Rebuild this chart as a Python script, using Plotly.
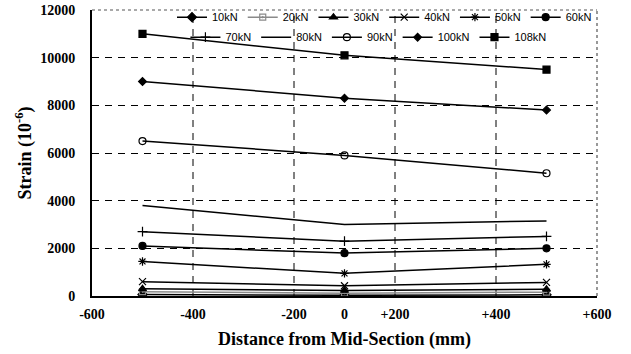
import plotly.graph_objects as go

# ---- data ----
positions_mm = [-500, 0, 500]
load_names = ["10kN", "20kN", "30kN", "40kN", "50kN", "60kN",
              "70kN", "80kN", "90kN", "100kN", "108kN"]
strain_10kN = [60, 30, 50]
strain_20kN = [180, 120, 160]
strain_30kN = [300, 230, 280]
strain_40kN = [600, 430, 570]
strain_50kN = [1450, 950, 1330]
strain_60kN = [2100, 1800, 2000]
strain_70kN = [2700, 2300, 2500]
strain_80kN = [3800, 3000, 3150]
strain_90kN = [6500, 5900, 5150]
strain_100kN = [9000, 8300, 7800]
strain_108kN = [11000, 10100, 9500]
x_tick_labels = ["-600", "-400", "-200", "0", "+200", "+400", "+600"]
y_tick_values = [0, 2000, 4000, 6000, 8000, 10000, 12000]
y_tick_labels = ["0", "2000", "4000", "6000", "8000", "10000", "12000"]

series = [strain_10kN, strain_20kN, strain_30kN, strain_40kN, strain_50kN,
          strain_60kN, strain_70kN, strain_80kN, strain_90kN, strain_100kN,
          strain_108kN]

# ---- styles ----
styles = [
    dict(symbol="diamond", color="black", size=7),
    dict(symbol="square-open-dot", color="#8a8a8a", size=6),
    dict(symbol="triangle-up", color="black", size=7),
    dict(symbol="x-thin-open", color="black", size=7),
    dict(symbol="asterisk-open", color="black", size=7),
    dict(symbol="circle", color="black", size=7),
    dict(symbol="cross-thin-open", color="black", size=7),
    None,
    dict(symbol="circle-open", color="black", size=7),
    dict(symbol="diamond", color="black", size=6),
    dict(symbol="square", color="black", size=7),
]

fig = go.Figure()
for i, (name, vals, st) in enumerate(zip(load_names, series, styles)):
    lg = "legend" if i < 6 else "legend2"
    if st is None:
        fig.add_trace(go.Scatter(x=positions_mm, y=vals, name=name, mode="lines",
                                 line=dict(color="black", width=1.5), legend=lg))
    else:
        fig.add_trace(go.Scatter(
            x=positions_mm, y=vals, name=name, mode="lines+markers",
            line=dict(color=st["color"], width=1.5),
            marker=dict(symbol=st["symbol"], size=st["size"], color=st["color"],
                        line=dict(color=st["color"], width=1.2)),
            legend=lg))

SERIF = "Liberation Serif"
legend_font = dict(family="Liberation Sans", size=11, color="black")
tick_font = dict(family=SERIF, size=14, color="black", weight=700)
title_font = dict(family=SERIF, size=18, color="black", weight=700)


def bold_serif(t):
    return ("<span style='font-family:Liberation Serif;font-weight:bold'>"
            + t + "</span>")


grid_line = dict(color="black", width=1, dash="7px,6px")
shapes = [
    dict(type="line", xref="x", yref="paper", x0=gx, x1=gx, y0=0, y1=1,
         line=grid_line, layer="below")
    for gx in (-375, -125, 125, 375)
]
shapes += [
    dict(type="line", xref="paper", yref="paper", x0=0, x1=1, y0=1, y1=1,
         line=dict(color="#555555", width=1.2, dash="dot")),
    dict(type="line", xref="paper", yref="paper", x0=1, x1=1, y0=0, y1=1,
         line=dict(color="#555555", width=1.2, dash="dot")),
]

fig.update_layout(
    width=631, height=354,
    margin=dict(l=92, r=34, t=10, b=58, autoexpand=False),
    font=dict(family=SERIF, color="black"),
    paper_bgcolor="white", plot_bgcolor="white",
    xaxis=dict(
        range=[-625, 625], automargin=False,
        tickmode="array",
        tickvals=[-625, -375, -125, 0, 125, 375, 625],
        ticktext=[bold_serif(t) for t in x_tick_labels],
        showgrid=False, zeroline=False,
        showline=True, linecolor="black", linewidth=2,
        ticks="", ticklabelstandoff=4, tickfont=tick_font,
        title=dict(text="Distance from Mid-Section (mm)", font=title_font, standoff=12),
    ),
    yaxis=dict(
        range=[0, 12000], automargin=False,
        tickmode="array", tickvals=y_tick_values,
        ticktext=[bold_serif(t) for t in y_tick_labels],
        showgrid=True, gridcolor="black", gridwidth=1, griddash="7px,6px",
        zeroline=False,
        showline=True, linecolor="black", linewidth=2,
        ticks="", ticklabelstandoff=12, tickfont=tick_font,
        title=dict(text="Strain (10<sup>-6</sup>)", font=title_font, standoff=4),
    ),
    legend=dict(orientation="h", x=1.0, xanchor="right", y=0.975, yanchor="middle",
                bgcolor="rgba(0,0,0,0)", font=legend_font,
                itemwidth=30, tracegroupgap=0),
    legend2=dict(orientation="h", x=0.185, xanchor="left", y=0.905, yanchor="middle",
                 bgcolor="rgba(0,0,0,0)", font=legend_font,
                 itemwidth=30, tracegroupgap=0),
    shapes=shapes,
)

fig.write_html("out.html", config={"displayModeBar": False},
               post_script="document.body.style.margin='0px';")
